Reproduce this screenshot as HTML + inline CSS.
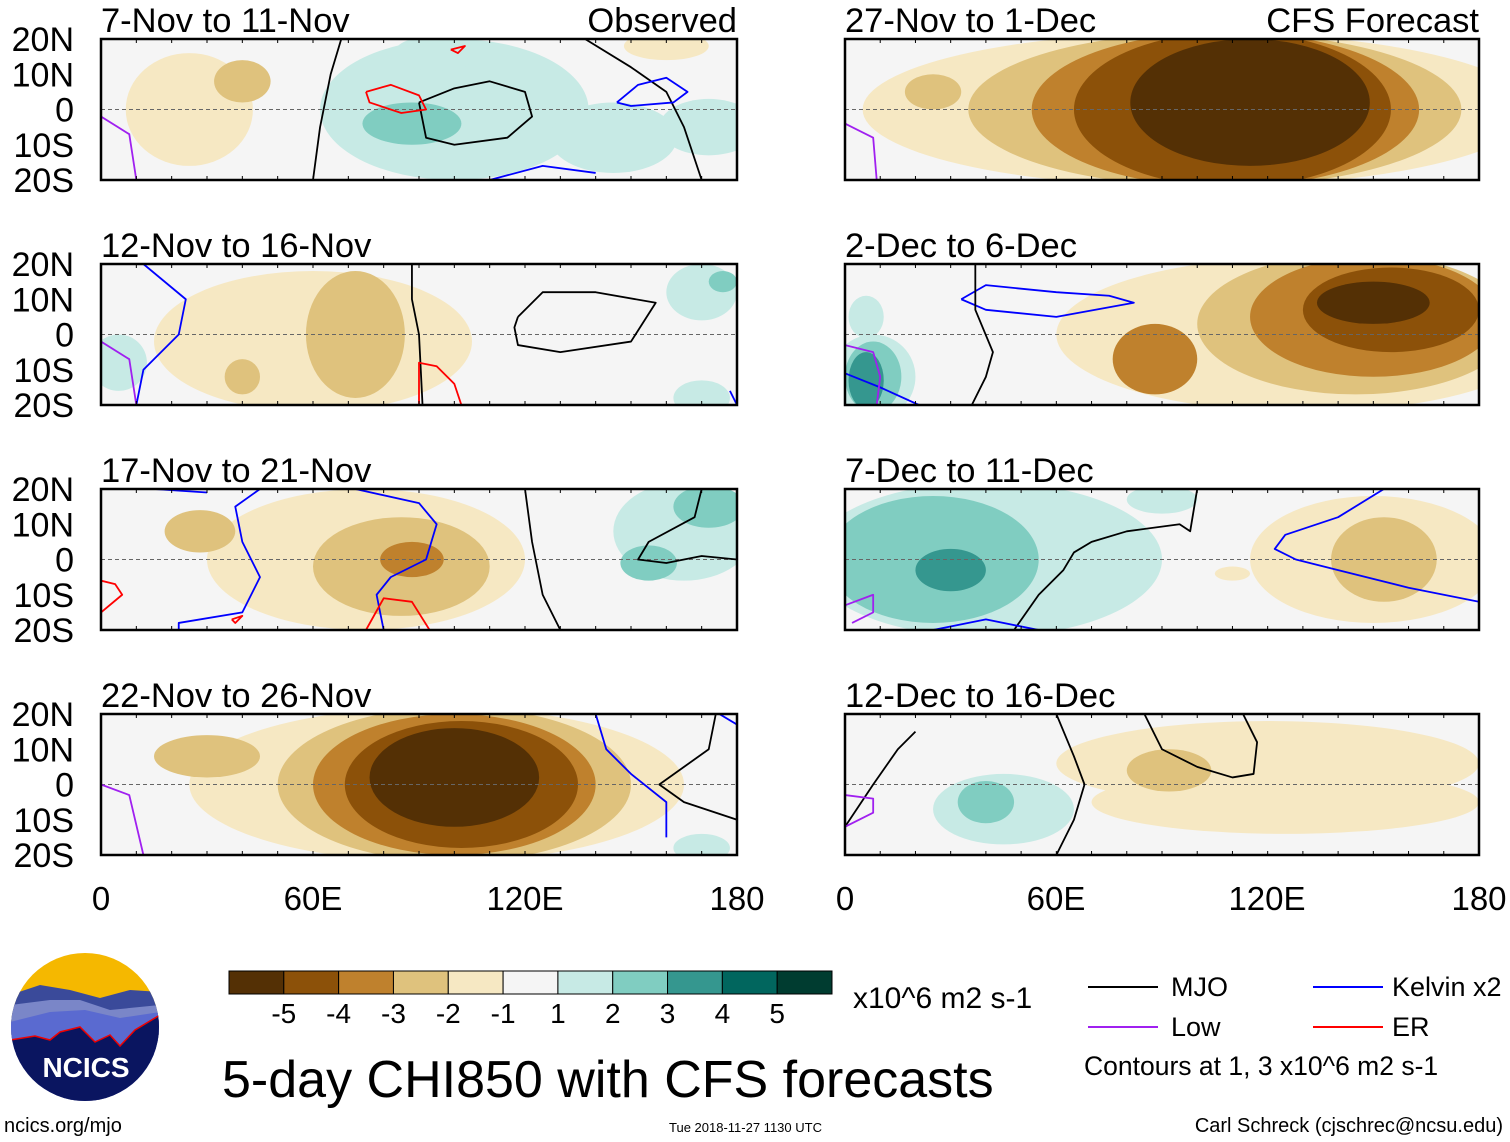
<!DOCTYPE html>
<html><head><meta charset="utf-8"><style>
body{margin:0;background:#fff;width:1510px;height:1142px;overflow:hidden;font-family:"Liberation Sans",sans-serif}
svg{position:absolute;left:0;top:0}
</style></head><body>
<svg id="chart" width="1510" height="1142" font-family="Liberation Sans, sans-serif">
<defs>
<clipPath id="logoclip"><circle cx="85" cy="1027" r="74"/></clipPath>
</defs>
<g id="panels"></g>
<g font-size="33" text-anchor="middle">
<text x="101" y="910">0</text><text x="313" y="910">60E</text><text x="525" y="910">120E</text><text x="737" y="910">180</text>
</g>
<g font-size="33" text-anchor="middle">
<text x="845" y="910">0</text><text x="1056" y="910">60E</text><text x="1267" y="910">120E</text><text x="1479" y="910">180</text>
</g>
<g id="colorbar"></g>
<text x="853" y="1008" font-size="30">x10^6 m2 s-1</text>
<g font-size="27">
<line x1="1088" y1="987" x2="1158" y2="987" stroke="#000" stroke-width="2"/>
<text x="1171" y="996">MJO</text>
<line x1="1088" y1="1027" x2="1158" y2="1027" stroke="#a020f0" stroke-width="2"/>
<text x="1171" y="1036">Low</text>
<line x1="1313" y1="987" x2="1383" y2="987" stroke="#0000ff" stroke-width="2"/>
<text x="1392" y="996">Kelvin x2</text>
<line x1="1313" y1="1027" x2="1383" y2="1027" stroke="#ff0000" stroke-width="2"/>
<text x="1392" y="1036">ER</text>
<text x="1084" y="1075" font-size="26.5">Contours at 1, 3 x10^6 m2 s-1</text>
</g>
<text x="222" y="1097" font-size="52">5-day CHI850 with CFS forecasts</text>
<text x="669" y="1132" font-size="13">Tue 2018-11-27 1130 UTC</text>
<text x="1503" y="1132" font-size="20" text-anchor="end">Carl Schreck (cjschrec@ncsu.edu)</text>
<text x="4" y="1132" font-size="20">ncics.org/mjo</text>
<g>
<g clip-path="url(#logoclip)">
<rect x="10" y="950" width="150" height="160" fill="#f5b800"/>
<polygon points="10,995 40,985 70,990 100,998 130,990 160,992 160,1110 10,1110" fill="#3a4a9a"/>
<polygon points="10,1005 50,1000 80,1000 110,1010 160,1005 160,1110 10,1110" fill="#7a86c8"/>
<polygon points="10,1022 50,1012 85,1010 120,1018 160,1012 160,1110 10,1110" fill="#5a6ad0"/>
<polygon points="10,1040 35,1036 50,1040 60,1032 80,1027 95,1042 110,1035 120,1046 135,1030 160,1015 160,1110 10,1110" fill="#0a1560" stroke="#e00" stroke-width="1.5"/>
</g>
<text x="86" y="1077" font-size="28" font-weight="bold" fill="#fff" text-anchor="middle">NCICS</text>
</g>
</svg>
<script>
const lonMin = 0, lonMax = 180, latMin = -20, latMax = 20;
const colors = ['#543005','#8c5109','#bf812d','#dfc27d','#f6e8c3','#f5f5f5','#c7eae5','#80cdc1','#35978f','#01665e','#003c30'];
const cbLabels = ['-5','-4','-3','-2','-1','1','2','3','4','5'];
const titles = ['7-Nov to 11-Nov','12-Nov to 16-Nov','17-Nov to 21-Nov','22-Nov to 26-Nov','27-Nov to 1-Dec','2-Dec to 6-Dec','7-Dec to 11-Dec','12-Dec to 16-Dec'];
// blobs: [lon, lat, rxDeg, ryDeg, level(-5..5)]
const blobs0 = [[25,0,18,16,-1],[40,8,8,6,-2],[100,0,38,20,1],[145,-8,18,10,1],[172,-5,14,8,1],[88,-4,14,6,2],[95,16,12,5,1],[160,18,12,4,-1]];
const blobs1 = [[60,-2,45,20,-1],[72,0,14,18,-2],[32,-8,10,8,-1],[40,-12,5,5,-2],[170,12,10,8,1],[176,15,4,3,2],[5,-8,8,8,1],[170,-18,8,5,1]];
const blobs2 = [[75,0,45,20,-1],[85,-2,25,14,-2],[88,0,9,5,-3],[28,8,10,6,-2],[165,8,20,14,1],[172,15,10,6,2],[155,-1,8,5,2]];
const blobs3 = [[95,0,70,22,-1],[100,0,50,22,-2],[100,0,40,20,-3],[102,0,33,18,-4],[100,2,24,14,-5],[30,8,15,6,-2],[170,-18,8,4,1]];
const blobs4 = [[100,0,95,22,-1],[105,0,70,22,-2],[108,0,55,22,-3],[110,0,45,22,-4],[115,2,34,18,-5],[25,5,8,5,-2]];
const blobs5 = [[130,0,70,22,-1],[145,3,45,20,-2],[150,5,35,17,-3],[155,7,25,12,-4],[150,9,16,6,-5],[88,-7,12,10,-3],[8,-12,12,12,1],[8,-12,8,10,2],[6,-13,5,8,3],[6,5,5,6,1]];
const blobs6 = [[40,0,50,22,1],[25,0,30,18,2],[30,-3,10,6,3],[150,0,35,18,-1],[153,0,15,12,-2],[90,17,10,4,1],[110,-4,5,2,-1]];
const blobs7 = [[120,6,60,12,-1],[125,-5,55,9,-1],[92,4,12,6,-2],[135,-3,10,6,-1],[45,-7,20,10,1],[40,-5,8,6,2]];
const panelBlobs = [blobs0,blobs1,blobs2,blobs3,blobs4,blobs5,blobs6,blobs7];
// contours: [type, [[lon,lat],...]]
const cont0 = [['mjo',[[60,-20],[62,-5],[65,10],[68,20]]],['mjo',[[90,2],[100,6],[110,8],[120,5],[122,-2],[115,-8],[100,-10],[92,-8],[90,2]]],['mjo',[[137,20],[150,12],[160,5],[165,-5],[170,-20]]],['kelvin',[[146,2],[152,7],[160,9],[166,5],[162,2],[150,1],[146,2]]],['kelvin',[[110,-20],[125,-16],[140,-18]]],['er',[[75,5],[82,7],[90,4],[92,0],[85,-1],[76,2],[75,5]]],['er',[[99,17],[103,18],[101,16],[99,17]]],['low',[[0,-2],[8,-7],[10,-20]]]];
const cont1 = [['mjo',[[88,20],[88,10],[90,0],[91,-20]]],['mjo',[[118,5],[125,12],[140,12],[157,9],[150,-2],[130,-5],[118,-3],[117,2],[118,5]]],['kelvin',[[12,20],[24,10],[22,0],[12,-10],[10,-20]]],['kelvin',[[178,-16],[180,-20]]],['er',[[90,-20],[90,-8],[95,-9],[100,-14],[102,-20]]],['low',[[0,-2],[8,-7],[10,-20]]]];
const cont2 = [['mjo',[[120,20],[122,5],[125,-10],[130,-20]]],['mjo',[[180,0],[170,1],[160,-1],[152,0],[155,5],[168,12],[170,20]]],['kelvin',[[15,20],[30,19]]],['kelvin',[[72,20],[90,16],[95,10],[92,0],[82,-5],[78,-10],[80,-20]]],['kelvin',[[45,20],[38,15],[40,5],[45,-5],[40,-15],[22,-18],[22,-20]]],['er',[[75,-20],[80,-11],[88,-12],[93,-20]]],['er',[[0,-15],[6,-10],[4,-7],[0,-6]]],['er',[[37,-17],[40,-16],[38,-18],[37,-17]]]];
const cont3 = [['mjo',[[180,-10],[165,-5],[158,0],[165,5],[172,10],[174,20]]],['kelvin',[[140,20],[143,10],[150,3],[160,-5],[160,-15]]],['kelvin',[[175,20],[180,17]]],['low',[[0,0],[8,-3],[12,-20]]]];
const cont4 = [['low',[[0,-4],[8,-8],[9,-20]]]];
const cont5 = [['kelvin',[[33,10],[40,14],[60,12],[75,11],[82,9],[60,5],[40,7],[33,10]]],['kelvin',[[0,-11],[10,-15],[21,-20]]],['mjo',[[36,-20],[40,-12],[42,-5],[37,7],[37,20]]],['low',[[0,-3],[8,-5],[10,-12],[9,-20]]]];
const cont6 = [['mjo',[[48,-20],[55,-10],[62,-3],[65,2],[70,5],[80,8],[95,10],[98,8],[100,20]]],['kelvin',[[25,-20],[40,-17],[55,-20]]],['kelvin',[[153,20],[140,12],[125,7],[122,3],[128,0],[140,-3],[160,-8],[180,-12]]],['low',[[0,-13],[8,-10],[8,-15],[2,-18]]]];
const cont7 = [['mjo',[[0,-12],[8,0],[15,10],[20,15]]],['mjo',[[60,-20],[65,-10],[68,0],[65,8],[60,20]]],['mjo',[[85,20],[90,10],[100,5],[110,2],[116,3],[117,12],[113,20]]],['low',[[0,-12],[8,-8],[8,-4],[0,-3]]]];
const panelConts = [cont0,cont1,cont2,cont3,cont4,cont5,cont6,cont7];
const typeColor = {mjo:'#000',kelvin:'#0000ff',er:'#ff0000',low:'#a020f0'};
const NS='http://www.w3.org/2000/svg';
function mk(tag,attrs){const e=document.createElementNS(NS,tag);for(const k in attrs)e.setAttribute(k,attrs[k]);return e;}
const panelsG=document.getElementById('panels');
const lefts=[101,101,101,101,845,845,845,845];
const tops=[39,264,489,714,39,264,489,714];
titles.forEach((t,i)=>{
  const x0=lefts[i],y0=tops[i],W=(i<4?636:634),H=141;
  const xs=lon=>x0+(lon-lonMin)/(lonMax-lonMin)*W;
  const ys=lat=>y0+(latMax-lat)/(latMax-latMin)*H;
  const g=mk('g',{});
  
  
  const cid='clip'+i;
  const cp=mk('clipPath',{id:cid});cp.appendChild(mk('rect',{x:x0,y:y0,width:W,height:H}));g.appendChild(cp);
  const inner=mk('g',{'clip-path':'url(#'+cid+')'});
  inner.appendChild(mk('rect',{x:x0,y:y0,width:W,height:H,fill:colors[5]}));
  panelBlobs[i].forEach(b=>{
    const e=mk('ellipse',{cx:xs(b[0]),cy:ys(b[1]),rx:b[2]*W/(lonMax-lonMin),ry:b[3]*H/(latMax-latMin),fill:colors[b[4]+5]});
    
    
    inner.appendChild(e);
  });
  inner.appendChild(mk('line',{x1:x0,y1:ys(0),x2:x0+W,y2:ys(0),stroke:'#666','stroke-dasharray':'4,3','stroke-width':1}));
  panelConts[i].forEach(c=>{
    const p=mk('polyline',{points:c[1].map(q=>xs(q[0])+','+ys(q[1])).join(' '),fill:'none',stroke:typeColor[c[0]],'stroke-width':1.8,'stroke-linejoin':'round'});
    
    
    inner.appendChild(p);
  });
  g.appendChild(inner);
  g.appendChild(mk('rect',{x:x0,y:y0,width:W,height:H,fill:'none',stroke:'#000','stroke-width':2.5}));
  for(let lon=0;lon<=180;lon+=10){const x=xs(lon);g.appendChild(mk('line',{x1:x,y1:y0,x2:x,y2:y0+4,stroke:'#000'}));g.appendChild(mk('line',{x1:x,y1:y0+H,x2:x,y2:y0+H-4,stroke:'#000'}));}
  const tt=mk('text',{x:x0,y:y0-7,'font-size':34.5});tt.textContent=t;
  
  
  g.appendChild(tt);
  if(i===0||i===4){const r=mk('text',{x:x0+W,y:y0-7,'font-size':34.5,'text-anchor':'end'});r.textContent=(i===0?'Observed':'CFS Forecast');
    
    
    g.appendChild(r);}
  if(i<4){['20N','10N','0','10S','20S'].forEach((l,k)=>{const tx=mk('text',{x:74,y:ys(20-10*k)+12,'font-size':34,'text-anchor':'end'});tx.textContent=l;
    
    
    g.appendChild(tx);});}
  panelsG.appendChild(g);
});
const cb=document.getElementById('colorbar');
const cbx=229,cbw=603/11;
colors.forEach((c,k)=>{const r=mk('rect',{x:cbx+k*cbw,y:971,width:cbw,height:23,fill:c,stroke:'#000','stroke-width':1});
  
  
  cb.appendChild(r);});
cbLabels.forEach((l,k)=>{const t=mk('text',{x:cbx+(k+1)*cbw,y:1023,'font-size':28,'text-anchor':'middle'});t.textContent=l;
  
  
  cb.appendChild(t);});
</script>
</body></html>
